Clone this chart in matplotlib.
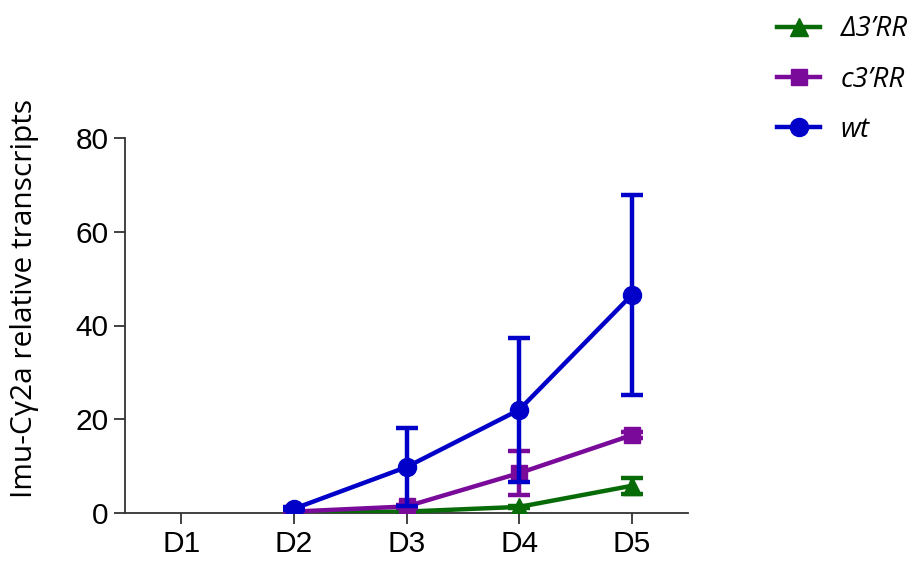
import matplotlib.pyplot as plt
import numpy as np

days = ["D1", "D2", "D3", "D4", "D5"]
x_idx = [2, 3, 4, 5]

wt = [0.9, 9.8, 22.0, 46.5]
wt_err = [0.3, 8.3, 15.3, 21.3]
c3 = [0.3, 1.4, 8.5, 16.6]
c3_err = [0.1, 0.4, 4.7, 0.6]
d3 = [0.1, 0.3, 1.3, 5.8]
d3_err = [0.05, 0.2, 0.3, 1.7]

labels = ["\u22063\u2019RR", "c3\u2019RR", "wt"]
colors = {"d3": "#076b07", "c3": "#7a0a9a", "wt": "#0000c8"}

fig = plt.figure(figsize=(9.24, 5.65), dpi=100)
ax = fig.add_axes([125/924, 1-513/565, (688-125)/924, (513-138)/565])

lw = 3.2
kw = dict(fmt="none", elinewidth=3.2, capsize=8, capthick=3.2)
hd, = ax.plot(x_idx, d3, color=colors["d3"], lw=lw, marker="^", ms=13, zorder=3)
ax.errorbar(x_idx, d3, yerr=d3_err, ecolor=colors["d3"], zorder=3, **kw)
hc, = ax.plot(x_idx, c3, color=colors["c3"], lw=lw, marker="s", ms=12, zorder=4)
ax.errorbar(x_idx, c3, yerr=c3_err, ecolor=colors["c3"], zorder=4, **kw)
hw, = ax.plot(x_idx, wt, color=colors["wt"], lw=lw, marker="o", ms=13, zorder=5)
ax.errorbar(x_idx, wt, yerr=wt_err, ecolor=colors["wt"], zorder=5, **kw)

ax.set_xlim(0.5, 5.5)
ax.set_ylim(0, 80)
ax.set_xticks(range(1, 6))
ax.set_xticklabels(days)
ax.set_yticks([0, 20, 40, 60, 80])
for s in ["top", "right"]:
    ax.spines[s].set_visible(False)
for s in ["left", "bottom"]:
    ax.spines[s].set_color("#333333")
    ax.spines[s].set_linewidth(1.3)
ax.tick_params(axis="both", direction="out", length=8, width=1.3, color="#333333",
               labelsize=21.5, pad=4)
for t in ax.get_xticklabels() + ax.get_yticklabels():
    t.set_family("Liberation Sans")
ax.set_ylabel("Imu-C\u03b32a relative transcripts", fontsize=21.5, family="Open Sans")
ax.yaxis.set_label_coords(-0.152, 0.573)

leg = fig.legend([hd, hc, hw], labels, loc="upper left", bbox_to_anchor=(752/924, 1.017),
                 frameon=False, prop={"family": "Open Sans", "style": "italic", "size": 20},
                 handlelength=1.55, labelspacing=0.8, handletextpad=0.75)
for line, c in zip(leg.get_lines(), [colors["d3"], colors["c3"], colors["wt"]]):
    line.set_color(c)
    line.set_linewidth(3.2)

fig.savefig("out.png", dpi=100)
